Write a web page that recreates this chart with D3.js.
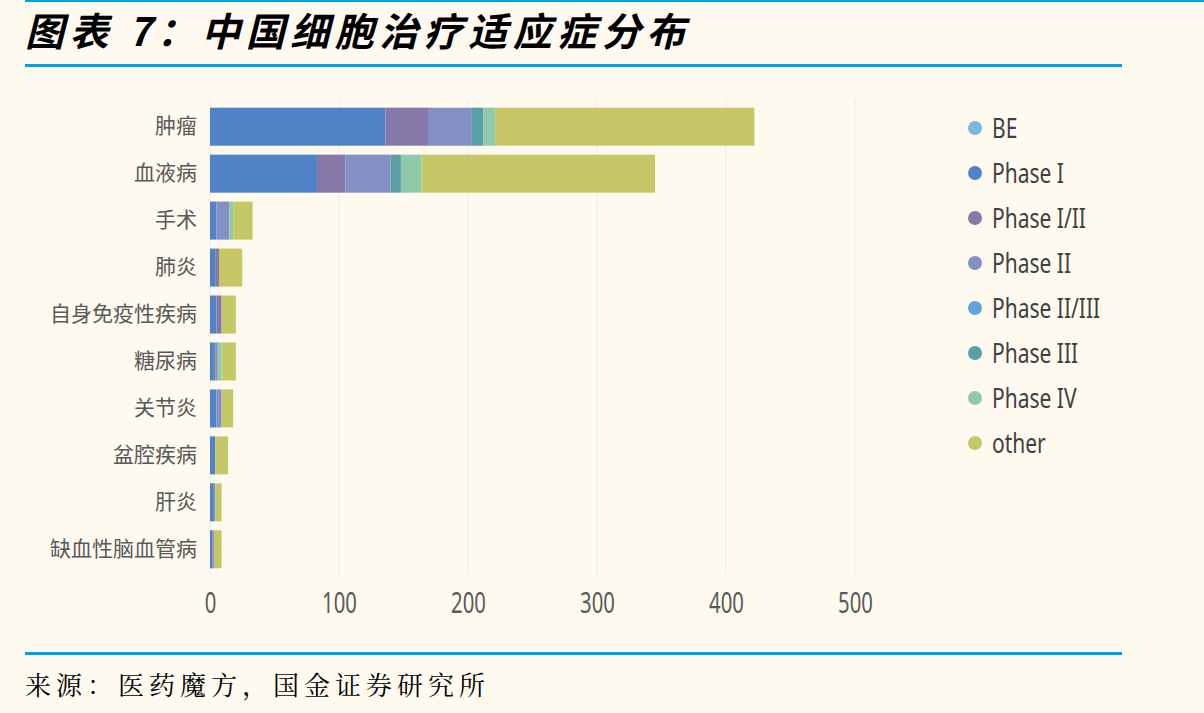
<!DOCTYPE html>
<html><head><meta charset="utf-8">
<script src="https://cdn.jsdelivr.net/npm/d3@7"></script>
<style>
html,body{margin:0;padding:0;background:#fffaf0;}
svg{display:block;}
</style></head>
<body><svg id="c" width="1204" height="713"></svg>
<script>
const categories = ["肿瘤","血液病","手术","肺炎","自身免疫性疾病","糖尿病","关节炎","盆腔疾病","肝炎","缺血性脑血管病"];
const seriesNames = ["BE","Phase I","Phase I/II","Phase II","Phase II/III","Phase III","Phase IV","other"];
const seriesColors = ["#7ab8d6","#5083c5","#8679aa","#8290c4","#5fa3df","#5b9ea8","#8fc9aa","#c6c766"];
const BE        = [0,0,0,0,0,0,0,0,0,0];
const phaseI    = [136,83,5,4,5,3,5,4,3,2];
const phaseI_II = [33,22,0,3,4,1,0,0,0,1];
const phaseII   = [34,35,10,0,0,2,4,0,1,0];
const phaseII_III=[0,0,0,0,0,0,0,0,0,0];
const phaseIII  = [9,8,0,0,0,0,0,0,0,0];
const phaseIV   = [9,16,3,0,0,3,0,0,0,0];
const other     = [201,181,15,18,11,11,9,10,5,6];
const xTicks = [0,100,200,300,400,500];
const titleText = "图表 7：中国细胞治疗适应症分布";
const sourceText = "来源：医药魔方，国金证券研究所";

const seriesValues = [BE,phaseI,phaseI_II,phaseII,phaseII_III,phaseIII,phaseIV,other];
const rows = categories.map((c,i)=>{const r={cat:c}; seriesNames.forEach((s,j)=>r[s]=seriesValues[j][i]); return r;});

const svg = d3.select("#c");
svg.append("rect").attr("width",1204).attr("height",713).attr("fill","#fffaf0");
// frame lines
svg.append("rect").attr("x",25).attr("y",0).attr("width",1179).attr("height",2).attr("fill","#00a0e9");
svg.append("rect").attr("x",25).attr("y",64).attr("width",1097).attr("height",3).attr("fill","#00a0e9");
svg.append("rect").attr("x",25).attr("y",652).attr("width",1097).attr("height",3).attr("fill","#00a0e9");

svg.append("text").attr("x",25).attr("y",46)
  .attr("font-family","'Noto Sans CJK SC'").attr("font-weight","bold").attr("font-style","italic")
  .attr("font-size",39).attr("letter-spacing",5.5).attr("fill","#000").text(titleText);
svg.append("text").attr("x",25).attr("y",695)
  .attr("font-family","'Noto Serif CJK SC','Noto Sans CJK SC'")
  .attr("font-size",26).attr("letter-spacing",5).attr("fill","#000").text(sourceText);

const x = d3.scaleLinear().domain([0,500]).range([210,855]);
const y = d3.scaleBand().domain(categories).range([103,573]).paddingInner(0.19).paddingOuter(0.1);

const gridG = svg.append("g");
gridG.selectAll("line").data(xTicks).join("line")
  .attr("x1",d=>x(d)).attr("x2",d=>x(d)).attr("y1",100).attr("y2",575)
  .attr("stroke","#ebebe6").attr("stroke-width",1);

const stack = d3.stack().keys(seriesNames)(rows);
const color = d3.scaleOrdinal().domain(seriesNames).range(seriesColors);
svg.append("g").selectAll("g").data(stack).join("g").attr("fill",d=>color(d.key))
  .selectAll("rect").data(d=>d).join("rect")
  .attr("x",d=>x(d[0])).attr("width",d=>x(d[1])-x(d[0]))
  .attr("y",d=>y(d.data.cat)).attr("height",y.bandwidth());

const font = "'Noto Sans','Open Sans',sans-serif";
const yAxis = svg.append("g").attr("transform","translate(204,0)")
  .call(d3.axisLeft(y).tickSize(0).tickPadding(7));
yAxis.select(".domain").remove();
yAxis.selectAll("text").attr("font-family","'Noto Sans CJK SC'").attr("font-size",21).attr("fill","#595959");

const xAxis = svg.append("g").attr("transform","translate(0,592)")
  .call(d3.axisBottom(x).tickValues(xTicks).tickSize(0).tickPadding(0));
xAxis.select(".domain").remove();
xAxis.selectAll("text").attr("font-family",font).attr("font-size",29).attr("fill","#595959")
  .attr("transform","scale(0.7,1)");

const leg = svg.append("g").selectAll("g").data(seriesNames).join("g")
  .attr("transform",(d,i)=>`translate(975,${128+i*45})`);
leg.append("circle").attr("r",7).attr("fill",d=>color(d));
leg.append("text").attr("transform","translate(17,0) scale(0.75,1)").attr("dy","0.35em")
  .attr("font-family",font).attr("font-size",28).attr("fill","#404040").text(d=>d);
</script></body></html>
